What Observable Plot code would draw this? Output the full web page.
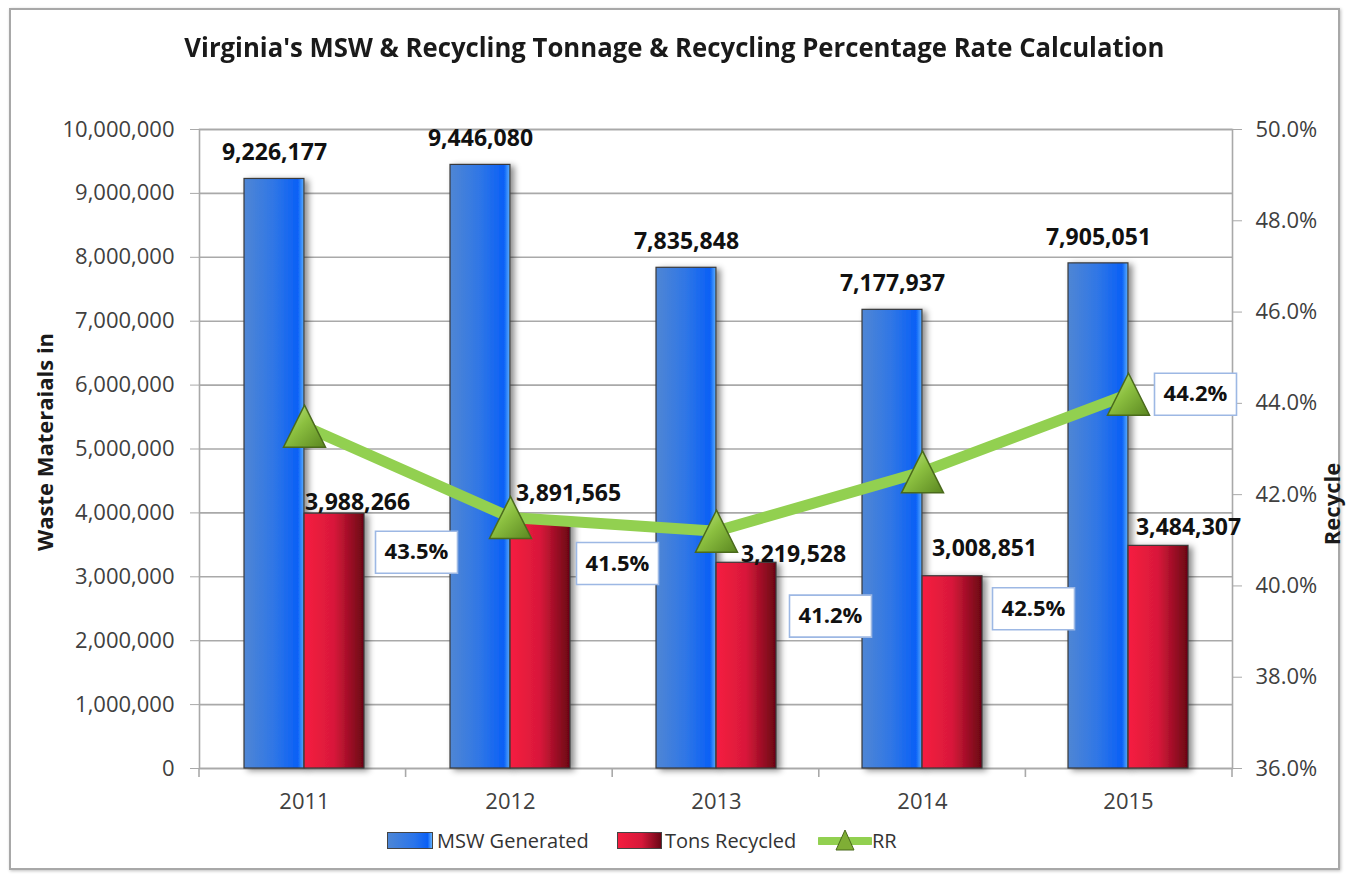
<!DOCTYPE html>
<html><head><meta charset="utf-8">
<script src="https://cdn.jsdelivr.net/npm/d3@7"></script>
<script src="https://cdn.jsdelivr.net/npm/@observablehq/plot@0.6"></script>
<style>
html,body{margin:0;padding:0;background:#fff;}
#chart{position:relative;width:1349px;height:876px;overflow:hidden;font-family:"Open Sans",sans-serif;background:#fff;}
#frame{position:absolute;left:9px;top:8px;width:1331px;height:862px;border:2px solid #a8a8a8;box-sizing:border-box;box-shadow:1px 1px 3px rgba(0,0,0,0.25);}
#title{position:absolute;left:0;top:29px;width:1349px;text-align:center;font-weight:bold;font-size:26px;line-height:36px;color:#1a1a1a;white-space:nowrap;}
#title span{display:inline-block;transform-origin:center center;}
.layer{position:absolute;left:0;top:0;}
.vlab{position:absolute;font-weight:bold;font-size:22px;color:#1a1a1a;white-space:nowrap;transform:translate(-50%,-50%) rotate(-90deg);}
.lg{position:absolute;font-size:20px;color:#333;white-space:nowrap;line-height:24px;}
.sw{position:absolute;height:17px;border:1.5px solid #444;box-sizing:border-box;}
</style></head>
<body>
<div id="chart">
  <div id="frame"></div>
  <div id="title"><span>Virginia's MSW &amp; Recycling Tonnage &amp; Recycling Percentage Rate Calculation</span></div>
  <div class="vlab" style="left:44px;top:442px;">Waste Materaials in</div>
  <div class="vlab" style="left:1331px;top:504px;">Recycle</div>
  <div class="sw" style="left:387px;top:832px;width:46px;background:linear-gradient(90deg,#4d86d6,#2a74ea 60%,#0a5ff5 90%,#66b4ff);"></div>
  <div class="lg" style="left:437px;top:829px;">MSW Generated</div>
  <div class="sw" style="left:617px;top:832px;width:45px;background:linear-gradient(90deg,#f41d3f,#d6183a 55%,#6b0515);"></div>
  <div class="lg" style="left:665px;top:829px;">Tons Recycled</div>
  <svg style="position:absolute;left:818px;top:826px;" width="54" height="30">
    <line x1="2" y1="15" x2="52" y2="15" stroke="#92d050" stroke-width="8" stroke-linecap="round"/>
    <path d="M27,4 L36,24 L18,24 Z" fill="#7fae35" stroke="#4a6a1c" stroke-width="1"/>
  </svg>
  <div class="lg" style="left:872px;top:829px;">RR</div>
</div>
<script>
// ---- data ----
const years = ["2011", "2012", "2013", "2014", "2015"];
const mswGenerated = [9226177, 9446080, 7835848, 7177937, 7905051];
const tonsRecycled = [3988266, 3891565, 3219528, 3008851, 3484307];
const recyclingRate = [43.5, 41.5, 41.2, 42.5, 44.2];

const rows = years.map((y, i) => ({year: y, msw: mswGenerated[i], rec: tonsRecycled[i], rate: recyclingRate[i]}));

// ---- layout / style ----
const W = 1349, H = 876;
const M = {top: 129, right: 117, bottom: 108, left: 199};
const padInner = 0.4186, padOuter = padInner / 2;
const step = (W - M.left - M.right) / years.length;
const band = step * (1 - padInner);
const half = band / 2;
const fmt = d3.format(",");
const font = "'Open Sans', sans-serif";
const gridColor = "#a9a9a9";
// manual nudges of data labels (pixels), as placed in the original
const recLabelNudge = [[23, -11], [28, -26], [47, -8], [32, -28], [30, -18]];
const pctLabelNudge = [[112, 126], [107, 46], [114, 85], [111, 137], [67, 0]];

const xScale = {domain: years, paddingInner: padInner, paddingOuter: padOuter, align: 0.5};

const plot1 = Plot.plot({
  width: W, height: H,
  marginTop: M.top, marginRight: M.right, marginBottom: M.bottom, marginLeft: M.left,
  style: {fontFamily: font, fontSize: "22px", color: "#404040", background: "transparent", overflow: "visible"},
  x: xScale,
  y: {domain: [0, 10000000], nice: false},
  marks: [
    Plot.gridY({ticks: 10, stroke: gridColor, strokeOpacity: 1, strokeWidth: 1.6}),
    Plot.frame({stroke: gridColor, strokeWidth: 1.6}),
    Plot.barY(rows, {x: "year", y: "msw", fill: "url(#gBlue)", stroke: "#3a3a3a", strokeWidth: 1.2, insetRight: half}),
    Plot.barY(rows, {x: "year", y: "rec", fill: "url(#gRed)", stroke: "#3a3a3a", strokeWidth: 1.2, insetLeft: half}),
    Plot.axisY({ticks: 10, tickFormat: fmt, tickSize: 9, tickPadding: 16, label: null, stroke: gridColor, fill: "#404040"}),
    Plot.axisX({tickSize: 0, tickPadding: 25, label: null, fill: "#404040"}),
    Plot.text(rows, {x: "year", y: "msw", text: d => fmt(d.msw), dx: -half / 2, dy: -26,
      fontWeight: "bold", fontSize: 23, fill: "#111"}),
    ...rows.map((r, i) => Plot.text([r], {x: "year", y: "rec", text: d => fmt(d.rec),
      dx: half / 2 + recLabelNudge[i][0], dy: recLabelNudge[i][1], fontWeight: "bold", fontSize: 23, fill: "#111"}))
  ]
});

const triSymbol = {draw(ctx, size) {
  const h = Math.sqrt(size / Math.PI) * 2;
  ctx.moveTo(0, -h / 2); ctx.lineTo(h / 2, h / 2); ctx.lineTo(-h / 2, h / 2); ctx.closePath();
}};
const boxSymbol = {draw(ctx, size) { const w = 82, h = 42; ctx.rect(-w / 2, -h / 2, w, h); }};

const plot2 = Plot.plot({
  width: W, height: H,
  marginTop: M.top, marginRight: M.right, marginBottom: M.bottom, marginLeft: M.left,
  style: {fontFamily: font, fontSize: "22px", color: "#404040", background: "transparent", overflow: "visible"},
  x: {...xScale, axis: null},
  y: {domain: [36, 50], nice: false},
  marks: [
    Plot.axisY({anchor: "right", ticks: 7, tickFormat: d => d.toFixed(1) + "%", tickSize: 9, tickPadding: 14,
      label: null, stroke: gridColor, fill: "#404040"}),
    Plot.line(rows, {x: "year", y: "rate", stroke: "#92d050", strokeWidth: 11, strokeLinejoin: "round"}),
    Plot.dot(rows, {x: "year", y: "rate", symbol: triSymbol, r: 21, fill: "url(#gTri)", stroke: "#4a6a1c", strokeWidth: 1.5}),
    ...rows.map((r, i) => Plot.dot([r], {x: "year", y: "rate", symbol: boxSymbol, r: 10, fill: "white",
      stroke: "#9db8e4", strokeWidth: 1.6, dx: pctLabelNudge[i][0], dy: pctLabelNudge[i][1]})),
    ...rows.map((r, i) => Plot.text([r], {x: "year", y: "rate", text: d => d.rate.toFixed(1) + "%",
      dx: pctLabelNudge[i][0], dy: pctLabelNudge[i][1], fontWeight: "bold", fontSize: 22, fill: "#111"}))
  ]
});

plot1.classList.add("layer");
plot2.classList.add("layer");
const chart = document.getElementById("chart");
chart.appendChild(plot1);
chart.appendChild(plot2);

// gradients & shadow
d3.select(plot1).insert("defs", ":first-child").html(`
  <linearGradient id="gBlue" x1="0" x2="1" y1="0" y2="0">
    <stop offset="0" stop-color="#4f86d4"/><stop offset="0.5" stop-color="#2f76e6"/>
    <stop offset="0.9" stop-color="#0a60f6"/><stop offset="1" stop-color="#5cb0ff"/>
  </linearGradient>
  <linearGradient id="gRed" x1="0" x2="1" y1="0" y2="0">
    <stop offset="0" stop-color="#f61e40"/><stop offset="0.5" stop-color="#d8183a"/>
    <stop offset="1" stop-color="#6a0514"/>
  </linearGradient>
  <filter id="shadow" x="-20%" y="-10%" width="160%" height="130%">
    <feDropShadow dx="4" dy="2" stdDeviation="3" flood-color="#000" flood-opacity="0.45"/>
  </filter>`);
d3.select(plot2).insert("defs", ":first-child").html(`
  <linearGradient id="gTri" x1="0" x2="1" y1="0" y2="1">
    <stop offset="0" stop-color="#c2e88a"/><stop offset="0.45" stop-color="#8cc040"/>
    <stop offset="1" stop-color="#5a8620"/>
  </linearGradient>`);
d3.select(plot1).selectAll("g[aria-label='bar']").attr("filter", "url(#shadow)");

// category boundary ticks on the x axis
const axisG = d3.select(plot1).append("g").attr("stroke", gridColor).attr("stroke-width", 1.6);
for (let k = 0; k <= years.length; k++) {
  const x = M.left + k * step;
  axisG.append("line").attr("x1", x).attr("x2", x).attr("y1", H - M.bottom).attr("y2", H - M.bottom + 9);
}

// fit title width
const t = document.querySelector("#title span");
const tw = t.getBoundingClientRect().width;
t.style.transform = `scaleX(${980 / tw})`;
</script>
</body></html>
